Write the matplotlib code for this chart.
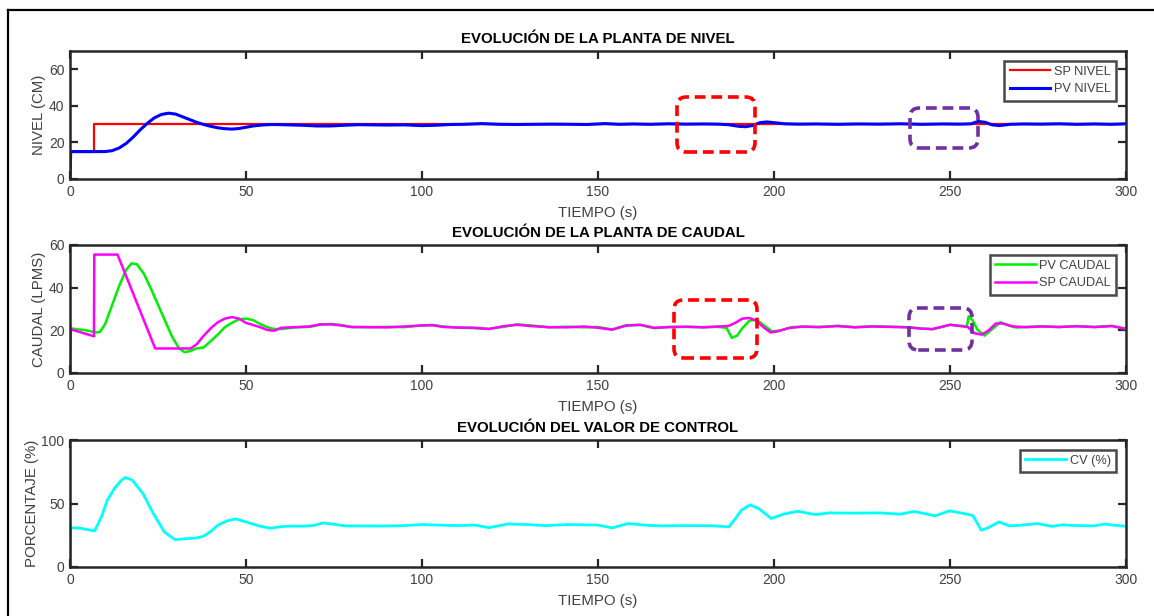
import matplotlib
matplotlib.use("Agg")
import matplotlib.pyplot as plt
from matplotlib.patches import FancyBboxPatch
from matplotlib.lines import Line2D

plt.rcParams['font.family'] = ['Liberation Sans', 'DejaVu Sans']

# ---------------- level plant ----------------
t_sp_nivel = [0, 6.8, 6.8, 300]
sp_nivel = [15, 15, 30, 30]

t_pv_nivel = [0, 0.2, 6, 10, 12, 14, 16, 18, 20, 22, 24, 26, 28, 30, 32, 34, 36, 38,
              40, 42, 44, 46, 48, 50, 52, 55, 58, 62, 66, 70, 74, 78, 82, 86, 90, 95,
              100, 104, 108, 112, 117, 122, 127, 132, 137, 142, 147, 152, 156, 160,
              165, 170, 175, 180, 184, 187, 190, 192, 194, 196, 198, 200, 203, 207,
              212, 218, 224, 230, 236, 242, 248, 253, 256, 258, 260, 262, 264, 267,
              271, 276, 281, 286, 291, 296, 300]
pv_nivel = [0, 15, 15, 15, 15.5, 17, 19.5, 23, 27, 30.5, 33.5, 35.3, 36, 35.5, 34, 32.5,
            31, 29.8, 28.8, 28, 27.5, 27.3, 27.6, 28.3, 29, 29.6, 29.8, 29.6, 29.4, 29.0,
            29.0, 29.4, 29.7, 29.6, 29.5, 29.6, 29.2, 29.4, 29.8, 29.9, 30.3, 29.9, 29.8,
            29.9, 30.0, 29.9, 29.8, 30.3, 29.9, 30.1, 29.9, 30.2, 30.0, 30.1, 30.0, 29.7,
            28.8, 28.6, 29.3, 30.8, 31.2, 30.8, 30.2, 30.0, 30.1, 29.9, 30.1, 30.0, 30.2,
            29.9, 30.1, 30.0, 30.2, 31.5, 31.0, 29.6, 29.2, 29.9, 30.1, 30.0, 30.2, 29.9,
            30.1, 29.9, 30.2]

# ---------------- flow plant ----------------
t_sp_caudal = [0, 0.2, 6.8, 6.9, 13.5, 24.2, 34.3, 36, 38, 40, 42, 44, 46, 48, 50, 52,
               54, 56, 58, 60, 64, 68, 71, 74, 77, 80, 85, 90, 95, 100, 103, 106, 110,
               115, 119, 123, 127, 131, 136, 141, 146, 150, 154, 158, 162, 166, 170, 175,
               180, 184, 187, 189, 191, 193, 195, 197, 199, 201, 204, 208, 213, 218, 223,
               228, 233, 238, 242, 245, 248, 250, 253, 255, 257, 259, 261, 263, 265, 268,
               272, 276, 281, 286, 291, 296, 300]
sp_caudal = [0, 20.5, 17.2, 55.5, 55.5, 11.5, 11.5, 13.5, 17.5, 21, 23.8, 25.5, 26.2,
             25.5, 23.5, 22.5, 21.5, 20.2, 19.8, 21.2, 21.5, 21.8, 22.8, 22.8, 22.3, 21.6,
             21.5, 21.4, 21.8, 22.3, 22.4, 21.6, 21.3, 21.2, 20.6, 21.9, 22.6, 22.0, 21.5,
             21.4, 21.8, 21.2, 20.3, 22.2, 22.6, 21.2, 21.5, 21.7, 21.4, 21.8, 22.0, 23.5,
             25.5, 25.8, 24.5, 21.5, 19.0, 19.5, 21.0, 21.8, 21.5, 22.0, 21.4, 21.8, 21.6,
             21.4, 20.8, 20.6, 21.8, 22.6, 22.0, 21.6, 18.6, 18.0, 20.0, 23.2, 23.2, 21.8,
             21.5, 21.8, 21.6, 21.9, 21.5, 22.0, 20.6]

t_pv_caudal = [0, 2, 4, 6, 7.5, 8.5, 10, 12, 14, 16, 17.5, 19, 21, 23, 25, 27, 29, 31,
               32.5, 34, 36, 38, 40, 42, 44, 46, 48, 50, 52, 54, 56, 58, 60, 64, 68, 71,
               74, 77, 80, 85, 90, 95, 100, 103, 106, 110, 115, 119, 123, 127, 131, 136,
               141, 146, 150, 154, 158, 162, 166, 170, 175, 180, 184, 186.5, 188, 189.5,
               191, 193, 195, 197, 199.5, 202, 205, 208, 213, 218, 223, 228, 233, 238,
               242, 245, 248, 250, 253, 254.8, 255.3, 256.3, 257.8, 259.8, 261.8, 264.3,
               266.8, 268.8, 272, 276, 281, 286, 291, 296, 300]
pv_caudal = [21, 20.5, 20.2, 19.5, 19, 19.2, 23, 32, 41, 48.5, 51.4, 51, 46.5, 39.5, 32,
             24.5, 17, 11.5, 9.8, 10.2, 11.5, 12, 15, 18, 21.5, 23.5, 25.2, 25.5, 24.8, 23,
             21.5, 20.6, 20.6, 21.4, 21.6, 22.6, 23, 22.5, 21.5, 21.5, 21.6, 21.5, 22.3,
             22.5, 21.8, 21.3, 21.0, 20.7, 21.6, 22.8, 22.3, 21.4, 21.7, 21.4, 21.6, 20.4,
             22.4, 22.5, 21.0, 21.6, 21.6, 21.5, 21.6, 21.2, 16.5, 17.5, 21, 24.5, 25,
             22.5, 19.5, 20.0, 21.5, 21.6, 21.6, 22.1, 21.5, 21.9, 21.7, 21.5, 20.8, 20.5,
             21.7, 22.6, 22.1, 21.8, 26.6, 25, 20.3, 17.5, 20.3, 23.8, 22.2, 21.3, 21.6,
             21.9, 21.5, 22.0, 21.6, 22.1, 20.8]

# ---------------- control value ----------------
t_cv = [0, 0.2, 3, 7, 9, 10.6, 12.6, 14.5, 15.7, 17.7, 20.7, 23.7, 26.8, 29.8, 32.3,
        35.9, 37.9, 40, 42, 44.5, 47, 50, 54, 57, 60, 63, 66, 69, 72, 75, 78, 83, 88,
        94, 100, 105, 110, 115, 119, 124.5, 130, 135, 141, 146, 150, 154, 158.5, 163,
        168, 175, 182, 187.2, 189, 190.7, 193.2, 195.7, 199.2, 202.7, 206.7, 211.7,
        215.7, 222, 230, 235.8, 239.8, 245.8, 249.8, 254.9, 256.5, 258.9, 260.9, 263.9,
        266.9, 270, 274.9, 278.9, 281.9, 286, 290.9, 293.9, 297, 300]
cv = [0, 31, 30.5, 28.4, 40, 52.6, 61.8, 68, 70.5, 68.4, 57.9, 42, 27.6, 21.6, 22.1,
      22.9, 24.2, 28, 32.9, 36.2, 37.9, 35.5, 32.1, 30.5, 31.8, 32.2, 32.1, 32.6, 34.7,
      33.6, 32.4, 32.3, 32.2, 32.5, 33.4, 33.0, 32.6, 33.0, 31.0, 33.9, 33.4, 32.6,
      33.4, 33.2, 33.0, 30.8, 34.2, 33.0, 32.4, 32.6, 32.5, 31.6, 38, 44.7, 48.9, 46,
      38.2, 41.6, 43.9, 41.3, 42.6, 42.4, 42.6, 41.6, 43.7, 40.3, 44.2, 41.6, 40.5,
      28.9, 31, 35.5, 32.4, 32.9, 34.2, 32, 33.2, 32.6, 32.4, 33.8, 32.8, 32.1]

x_ticks = [0, 50, 100, 150, 200, 250, 300]

AX_COLOR = '#262626'
TICK_COLOR = '#404040'

fig = plt.figure(figsize=(11.54, 6.16), dpi=100)
fig.patch.set_facecolor('white')

# outer frame (left and top edges)
fig.add_artist(Line2D([8 / 1154, 8 / 1154], [0, 1 - 10 / 616], transform=fig.transFigure,
                      color='black', lw=1.6))
fig.add_artist(Line2D([8 / 1154, 1], [1 - 10 / 616, 1 - 10 / 616], transform=fig.transFigure,
                      color='black', lw=1.6))


def make_axes(rect, ylim, yticks, title, ylabel):
    ax = fig.add_axes(rect)
    ax.set_xlim(0, 300)
    ax.set_ylim(*ylim)
    ax.set_xticks(x_ticks)
    ax.set_yticks(yticks)
    ax.tick_params(direction='in', length=6, width=1.6, color=AX_COLOR,
                   labelcolor=TICK_COLOR, labelsize=10, top=True, right=True, pad=4)
    for sp in ax.spines.values():
        sp.set_linewidth(1.8)
        sp.set_color(AX_COLOR)
    ax.set_title(title, fontsize=10.8, fontweight='bold', color='black', pad=6)
    ax.set_xlabel('TIEMPO (s)', fontsize=10.8, color=TICK_COLOR, labelpad=5)
    ax.set_ylabel(ylabel, fontsize=10.8, color=TICK_COLOR, labelpad=2)
    return ax


def add_legend(ax):
    leg = ax.legend(loc='upper right', fontsize=9.2, frameon=True, fancybox=False,
                    handlelength=3.2, handletextpad=0.3, borderpad=0.4,
                    labelspacing=0.45, borderaxespad=0.75)
    fr = leg.get_frame()
    fr.set_edgecolor('#1a1a1a')
    fr.set_linewidth(1.8)
    for txt in leg.get_texts():
        txt.set_color(TICK_COLOR)
    return leg


L = 70 / 1154
W = (1126 - 70) / 1154

# ---- panel 1
ax1 = make_axes([L, 1 - 179 / 616, W, 128 / 616], (0, 70), [0, 20, 40, 60],
                'EVOLUCIÓN DE LA PLANTA DE NIVEL', 'NIVEL (CM)')
ax1.plot(t_sp_nivel, sp_nivel, color='#ff0000', lw=1.6, label='SP NIVEL')
ax1.plot(t_pv_nivel, pv_nivel, color='#0000ff', lw=2.2, label='PV NIVEL')
add_legend(ax1)

# ---- panel 2
ax2 = make_axes([L, 1 - 373 / 616, W, 128 / 616], (0, 60), [0, 20, 40, 60],
                'EVOLUCIÓN DE LA PLANTA DE CAUDAL', 'CAUDAL (LPMS)')
ax2.plot(t_pv_caudal, pv_caudal, color='#00ee00', lw=1.8, label='PV CAUDAL')
ax2.plot(t_sp_caudal, sp_caudal, color='#ff00ff', lw=1.8, label='SP CAUDAL')
add_legend(ax2)

# ---- panel 3
ax3 = make_axes([L, 1 - 567 / 616, W, 127 / 616], (0, 100), [0, 50, 100],
                'EVOLUCIÓN DEL VALOR DE CONTROL', 'PORCENTAJE (%)')
ax3.plot(t_cv, cv, color='#00ffff', lw=2.0, label='CV (%)')
add_legend(ax3)


# highlight boxes drawn in pixel space so the corner radius stays round
def pixel_box(x0, y0, x1, y1, color):
    fw, fh = 1154, 616
    box = FancyBboxPatch((x0 / fw, 1 - y1 / fh), (x1 - x0) / fw, (y1 - y0) / fh,
                         boxstyle='round,pad=0,rounding_size=0.008',
                         mutation_aspect=fw / fh,
                         transform=fig.transFigure, fill=False, edgecolor=color,
                         linewidth=2.6, linestyle=(0, (3, 1.6)), zorder=10)
    fig.add_artist(box)


RED_BOX = '#ff0000'
PURPLE_BOX = '#7030a0'
pixel_box(677, 97, 755, 152, RED_BOX)
pixel_box(910, 108, 978, 148, PURPLE_BOX)
pixel_box(674, 300, 757, 358, RED_BOX)
pixel_box(909, 308, 972, 350, PURPLE_BOX)

fig.savefig('out.png', dpi=100, facecolor='white')
